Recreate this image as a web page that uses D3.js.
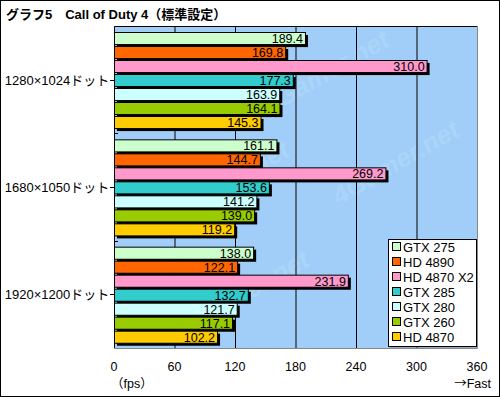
<!DOCTYPE html>
<html>
<head>
<meta charset="utf-8">
<script src="https://cdn.jsdelivr.net/npm/d3@7"></script>
<style>
  body { margin: 0; background: #fff; }
  text { font-family: "Liberation Sans", "Noto Sans CJK JP", sans-serif; }
</style>
</head>
<body>
<svg id="chart"></svg>
<script>
// resolutions (groups) and cards (series)
const resolutions = ["1280×1024ドット", "1680×1050ドット", "1920×1200ドット"];
const cards = ["GTX 275", "HD 4890", "HD 4870 X2", "GTX 285", "GTX 280", "GTX 260", "HD 4870"];
const cardColors = ["#ccffcc", "#ff6600", "#ff99cc", "#33cccc", "#ccffff", "#99cc00", "#ffcc00"];

// fps per card, one array per resolution
const fps1280 = [189.4, 169.8, 310.0, 177.3, 163.9, 164.1, 145.3];
const fps1680 = [161.1, 144.7, 269.2, 153.6, 141.2, 139.0, 119.2];
const fps1920 = [138.0, 122.1, 231.9, 132.7, 121.7, 117.1, 102.2];
const xTicks = [0, 60, 120, 180, 240, 300, 360];

const allFps = [fps1280, fps1680, fps1920];

const W = 500, H = 397;
const plot = { left: 114, right: 477, top: 26, bottom: 348 };

const svg = d3.select("#chart").attr("width", W).attr("height", H);

// outer frame
svg.append("rect")
  .attr("x", 0.5).attr("y", 0.5)
  .attr("width", W - 1).attr("height", H - 1)
  .attr("fill", "#fff").attr("stroke", "#000");

// title
svg.append("text")
  .attr("x", 6).attr("y", 19)
  .attr("font-size", 13).attr("font-weight", "bold")
  .text("グラフ5　Call of Duty 4（標準設定）");

const x = d3.scaleLinear().domain([0, 360]).range([plot.left, plot.right]);
const yGroup = d3.scaleBand().domain(resolutions).range([plot.top, plot.bottom]);
const yBar = d3.scaleBand().domain(cards)
  .range([6, yGroup.bandwidth() - 5])
  .paddingInner(0.14);

// plot background
svg.append("rect")
  .attr("x", plot.left).attr("y", plot.top)
  .attr("width", plot.right - plot.left).attr("height", plot.bottom - plot.top)
  .attr("fill", "#a0cef8");

// faint watermark, kept inside the plot
const wm = svg.append("g").attr("fill", "#abd4f9").attr("font-size", 26)
  .attr("font-weight", "bold").attr("font-style", "italic");
[[330, 80], [230, 190], [400, 170], [250, 300]].forEach(p => {
  wm.append("text")
    .attr("transform", "translate(" + p[0] + "," + p[1] + ") rotate(-30)")
    .attr("text-anchor", "middle")
    .text("4Gamer.net");
});

// vertical grid
svg.append("g")
  .selectAll("line")
  .data(xTicks.slice(1, -1))
  .join("line")
  .attr("x1", d => x(d) + 0.5).attr("x2", d => x(d) + 0.5)
  .attr("y1", plot.top).attr("y2", plot.bottom)
  .attr("stroke", "#000");

// plot frame: black top/left, grey right/bottom
svg.append("path")
  .attr("d", `M${plot.left + 0.5},${plot.bottom}V${plot.top + 0.5}H${plot.right}`)
  .attr("fill", "none").attr("stroke", "#000");
svg.append("path")
  .attr("d", `M${plot.left},${plot.bottom + 0.5}H${plot.right + 0.5}V${plot.top}`)
  .attr("fill", "none").attr("stroke", "#888");

// ticks at group centres (outside) and boundaries (inside)
const tickG = svg.append("g").attr("stroke", "#000");
resolutions.forEach((r, i) => {
  const c = Math.round(yGroup(r) + yGroup.bandwidth() / 2) + 0.5;
  tickG.append("line").attr("x1", plot.left - 4).attr("x2", plot.left).attr("y1", c).attr("y2", c);
  if (i > 0) {
    const b = Math.round(yGroup(r)) + 0.5;
    tickG.append("line").attr("x1", plot.left).attr("x2", plot.left + 4).attr("y1", b).attr("y2", b);
  }
});

// bars
resolutions.forEach((r, gi) => {
  const g = svg.append("g").attr("transform", "translate(0," + yGroup(r) + ")");
  const rows = cards.map((c, i) => ({ card: c, value: allFps[gi][i], color: cardColors[i] }));
  const bar = g.selectAll("g.bar").data(rows).join("g").attr("class", "bar");
  const bh = yBar.bandwidth();
  bar.append("rect")
    .attr("x", x(0) + 3)
    .attr("y", d => Math.round(yBar(d.card)) + 3)
    .attr("width", d => x(d.value) - x(0))
    .attr("height", bh)
    .attr("fill", "#000");
  bar.append("rect")
    .attr("x", x(0) + 0.5)
    .attr("y", d => Math.round(yBar(d.card)) + 0.5)
    .attr("width", d => x(d.value) - x(0))
    .attr("height", bh)
    .attr("fill", d => d.color)
    .attr("stroke", "#000")
    .attr("stroke-width", 1);
  bar.append("text")
    .attr("x", d => x(d.value) - 2)
    .attr("y", d => Math.round(yBar(d.card)) + bh / 2 + 5)
    .attr("text-anchor", "end")
    .attr("font-size", 12.5)
    .text(d => d.value.toFixed(1));
});

// group labels
svg.append("g")
  .selectAll("text")
  .data(resolutions)
  .join("text")
  .attr("x", 57)
  .attr("y", d => yGroup(d) + yGroup.bandwidth() / 2 + 5)
  .attr("text-anchor", "middle")
  .attr("font-size", 13)
  .text(d => d);

// x tick labels
svg.append("g")
  .selectAll("text")
  .data(xTicks)
  .join("text")
  .attr("x", d => x(d))
  .attr("y", 371)
  .attr("text-anchor", "middle")
  .attr("font-size", 12.5)
  .text(d => d);

svg.append("text").attr("x", 111).attr("y", 388).attr("font-size", 12.5).text("（fps）");
svg.append("text").attr("x", 491).attr("y", 388).attr("text-anchor", "end")
  .attr("font-size", 12.5)
  .call(t => t.append("tspan").attr("font-family", "Noto Sans CJK JP").text("→"))
  .call(t => t.append("tspan").text("Fast"));

// legend
const lg = svg.append("g").attr("transform", "translate(388,239)");
lg.append("rect").attr("x", 1.5).attr("y", 1.5).attr("width", 88).attr("height", 107).attr("fill", "#888");
lg.append("rect").attr("x", 0.5).attr("y", 0.5).attr("width", 88).attr("height", 107)
  .attr("fill", "#fff").attr("stroke", "#000");
const item = lg.selectAll("g.item").data(cards).join("g")
  .attr("class", "item")
  .attr("transform", (d, i) => "translate(0," + (8 + i * 15) + ")");
item.append("rect")
  .attr("x", 4.5).attr("y", -4.5).attr("width", 8).attr("height", 8)
  .attr("fill", (d, i) => cardColors[i]).attr("stroke", "#000");
item.append("text")
  .attr("x", 15).attr("y", 5)
  .attr("font-size", 13)
  .text(d => d);
</script>
</body>
</html>
